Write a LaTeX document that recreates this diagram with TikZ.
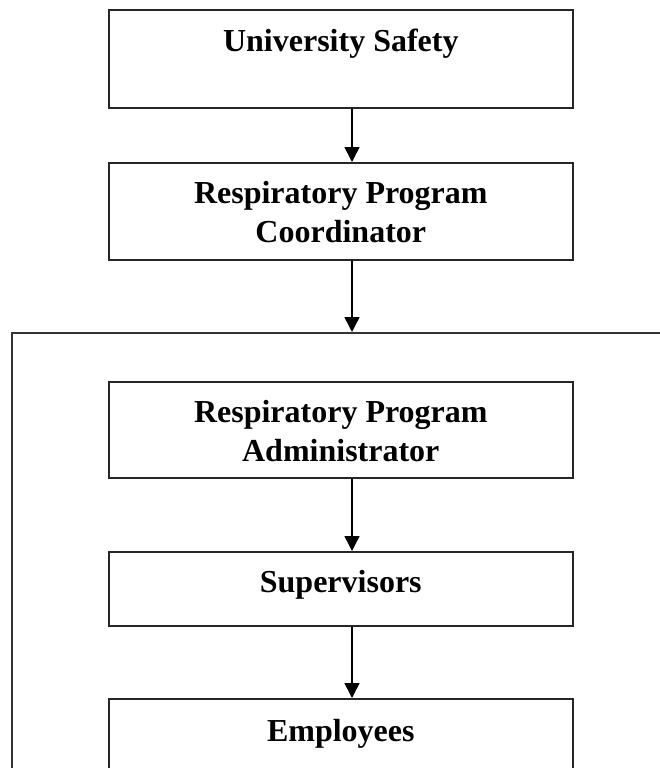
\documentclass[tikz,border=0pt]{standalone}
\usepackage{fontspec}
\setmainfont{Liberation Serif}
\usetikzlibrary{arrows.meta,calc}
\tikzset{
  box/.style={draw=black!85, line width=1.6pt, rectangle, inner sep=0pt, anchor=north west, minimum width=464pt},
  grpbox/.style={draw=black!80, line width=2pt, rectangle, inner sep=0pt, anchor=north west},
  lbl/.style={font=\fontsize{32}{39}\selectfont\bfseries, align=center, inner sep=0pt, anchor=base},
  arr/.style={draw=black, line width=1.5pt, -{Triangle[width=15pt,length=15pt]}}
}
\begin{document}
\begin{tikzpicture}[x=1pt,y=-1pt]
\useasboundingbox (0,0) rectangle (660,768);
\clip (0,0) rectangle (660,768);
\fill[white] (0,0) rectangle (660,768);
\coordinate (ax) at (352,0);
% outer group box (extends beyond the picture on the right and bottom)
\node[grpbox, minimum width=700pt, minimum height=520pt] (grp) at (11,332) {};
% boxes
\node[box, minimum height=98pt] (b1) at (108,9) {};
\node[box, minimum height=97pt] (b2) at (108,162) {};
\node[box, minimum height=96pt] (b3) at (108,381) {};
\node[box, minimum height=74pt] (b4) at (108,551) {};
\node[box, minimum height=120pt] (b5) at (108,698) {};
% texts (base anchor of a two-line node is the baseline of its last line)
\node[lbl] (t1) at ([yshift=-43pt]b1.north) {University Safety};
\node[lbl] (t2) at ([yshift=-80pt]b2.north) {Respiratory Program\\Coordinator};
\node[lbl] (t3) at ([yshift=-80pt]b3.north) {Respiratory Program\\Administrator};
\node[lbl] (t4) at ([yshift=-41pt]b4.north) {Supervisors};
\node[lbl] (t5) at ([yshift=-43pt]b5.north) {Employees};
% connectors
\draw[arr] (b1.south -| ax) -- (b2.north -| ax);
\draw[arr] (b2.south -| ax) -- (grp.north -| ax);
\draw[arr] (b3.south -| ax) -- (b4.north -| ax);
\draw[arr] (b4.south -| ax) -- (b5.north -| ax);
\end{tikzpicture}
\end{document}
